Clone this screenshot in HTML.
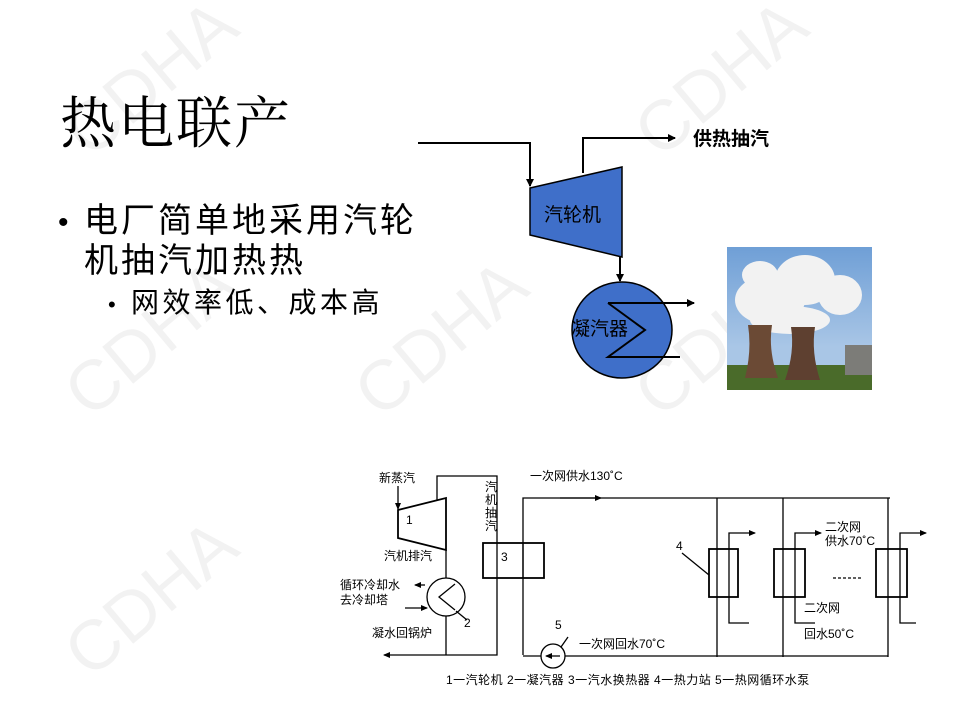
<!DOCTYPE html>
<html><head><meta charset="utf-8"><style>
body{margin:0;width:960px;height:720px;background:#fff;overflow:hidden}
svg{display:block}
.s{font-family:"Liberation Sans","Noto Sans CJK SC",sans-serif}
</style></head><body>
<svg width="960" height="720" viewBox="0 0 960 720" xmlns="http://www.w3.org/2000/svg">
<defs>
<marker id="a" markerWidth="8" markerHeight="8" refX="7" refY="4" orient="auto" markerUnits="userSpaceOnUse"><path d="M0,0 L8,4 L0,8 z" fill="#000"/></marker>
<marker id="b" markerWidth="7" markerHeight="6" refX="6" refY="3" orient="auto" markerUnits="userSpaceOnUse"><path d="M0,0 L7,3 L0,6 z" fill="#000"/></marker>
<linearGradient id="sky" x1="0" y1="0" x2="0" y2="1"><stop offset="0" stop-color="#6f9fd6"/><stop offset="0.7" stop-color="#a9c6e6"/></linearGradient>
</defs>
<g font-family="Liberation Sans,sans-serif" font-size="70" fill="#000" fill-opacity="0.05" >
<text x="90" y="420" transform="rotate(-40 90 420)">CDHA</text>
<text x="380" y="420" transform="rotate(-40 380 420)">CDHA</text>
<text x="660" y="420" transform="rotate(-40 660 420)">CDHA</text>
<text x="90" y="160" transform="rotate(-40 90 160)">CDHA</text>
<text x="660" y="160" transform="rotate(-40 660 160)">CDHA</text>
<text x="90" y="680" transform="rotate(-40 90 680)">CDHA</text>
</g>
<text x="60" y="143" font-family="'Liberation Serif','Noto Serif CJK SC',serif" font-size="56" letter-spacing="2" fill="#000">热电联产</text>
<g class="s" fill="#000">
<text x="58" y="232" font-size="30">•</text>
<text x="84" y="232" font-size="34" letter-spacing="3">电厂简单地采用汽轮</text>
<text x="84" y="272" font-size="34" letter-spacing="3">机抽汽加热热</text>
<text x="108" y="312" font-size="22">•</text>
<text x="131" y="312" font-size="28" letter-spacing="3.5">网效率低、成本高</text>
</g>
<g stroke="#000" stroke-width="2" fill="none">
<polyline points="418,143 530,143 530,186" marker-end="url(#a)"/>
<polyline points="583,173 583,138 675,138" marker-end="url(#a)"/>
<line x1="620" y1="257" x2="620" y2="281" marker-end="url(#a)"/>
</g>
<polygon points="530,188 622,167 622,257 530,235" fill="#3f6fc9" stroke="#000" stroke-width="1.5"/>
<ellipse cx="622" cy="330" rx="50" ry="48" fill="#3f6fc9" stroke="#000" stroke-width="1.5"/>
<g stroke="#000" stroke-width="2" fill="none">
<polyline points="608,303 645,330 608,357 680,357"/>
<line x1="608" y1="303" x2="694" y2="303" marker-end="url(#a)"/>
</g>
<text x="544" y="221" class="s" font-size="19" fill="#000">汽轮机</text>
<text x="571" y="335" class="s" font-size="19" fill="#000">凝汽器</text>
<text x="693" y="145" class="s" font-size="19" font-weight="bold" fill="#000">供热抽汽</text>
<rect x="727" y="247" width="145" height="143" fill="url(#sky)"/>
<g fill="#f2f2f2">
<ellipse cx="770" cy="300" rx="35" ry="25"/><ellipse cx="805" cy="280" rx="30" ry="25"/><ellipse cx="840" cy="295" rx="22" ry="20"/><ellipse cx="790" cy="320" rx="40" ry="14"/><ellipse cx="760" cy="275" rx="18" ry="14"/>
</g>
<rect x="727" y="365" width="145" height="25" fill="#4a6b2a"/>
<path d="M745,378 Q752,350 748,325 L772,325 Q768,350 778,378 Z" fill="#6b4a35"/>
<path d="M785,380 Q795,352 791,327 L815,327 Q811,352 820,380 Z" fill="#5e4030"/>
<rect x="845" y="345" width="27" height="30" fill="#7c7c78"/>
<g stroke="#000" stroke-width="1.3" fill="none">
<line x1="398" y1="486" x2="398" y2="509" marker-end="url(#b)"/>
<polygon points="398,510 446,498 446,550 398,538" stroke-width="1.8"/>
<polyline points="437,500 437,476 497,476 497,655 384,655" marker-end="url(#b)"/>
<line x1="446" y1="550" x2="446" y2="655"/>
<rect x="483" y="543" width="61" height="35" stroke-width="1.8" fill="#fff"/>
<line x1="497" y1="543" x2="497" y2="578"/>
<line x1="523" y1="543" x2="523" y2="578"/>
<circle cx="446" cy="597" r="19" fill="#fff"/>
<polyline points="455,584 439,597 455,610"/>
<line x1="425" y1="585" x2="415" y2="585" marker-end="url(#b)"/>
<line x1="405" y1="608" x2="427" y2="608" marker-end="url(#b)"/>
<line x1="456" y1="611" x2="467" y2="620"/>
<polyline points="523,655 523,498 890,498"/>
<line x1="560" y1="498" x2="601" y2="498" marker-end="url(#b)"/>
<line x1="717" y1="498" x2="717" y2="657"/>
<line x1="783" y1="498" x2="783" y2="657"/>
<line x1="888" y1="498" x2="888" y2="657"/>
<line x1="523" y1="656" x2="888" y2="656"/>
<circle cx="553" cy="656" r="12" fill="#fff"/>
<line x1="560" y1="656" x2="546" y2="656" marker-end="url(#b)"/>
<line x1="561" y1="647" x2="568" y2="637"/>
<rect x="709" y="549" width="29" height="48" stroke-width="1.8" fill="#fff"/>
<rect x="774" y="549" width="31" height="48" stroke-width="1.8" fill="#fff"/>
<rect x="876" y="549" width="31" height="48" stroke-width="1.8" fill="#fff"/>
<line x1="717" y1="549" x2="717" y2="597"/><line x1="783" y1="549" x2="783" y2="597"/><line x1="888" y1="549" x2="888" y2="597"/>
<polyline points="749,623 729,623 729,533 755,533" marker-end="url(#b)"/>
<polyline points="815,623 795,623 795,533 821,533" marker-end="url(#b)"/>
<polyline points="916,623 900,623 900,533 926,533" marker-end="url(#b)"/>
<line x1="682" y1="553" x2="709" y2="575"/>
<line x1="833" y1="578" x2="862" y2="578" stroke-dasharray="3,2"/>
</g>
<g class="s" font-size="12" fill="#000">
<text x="379" y="482">新蒸汽</text>
<text x="406" y="524">1</text>
<text x="384" y="560">汽机排汽</text>
<text x="485" y="491">汽</text><text x="485" y="504">机</text><text x="485" y="517">抽</text><text x="485" y="530">汽</text>
<text x="501" y="561">3</text>
<text x="340" y="589">循环冷却水</text>
<text x="340" y="604">去冷却塔</text>
<text x="464" y="627">2</text>
<text x="372" y="637">凝水回锅炉</text>
<text x="530" y="480">一次网供水130˚C</text>
<text x="555" y="629">5</text>
<text x="579" y="648">一次网回水70˚C</text>
<text x="676" y="550">4</text>
<text x="825" y="531">二次网</text>
<text x="825" y="545">供水70˚C</text>
<text x="804" y="612">二次网</text>
<text x="804" y="638">回水50˚C</text>
<text x="446" y="684" letter-spacing="0.5">1一汽轮机  2一凝汽器  3一汽水换热器  4一热力站  5一热网循环水泵</text>
</g>
</svg>
</body></html>
